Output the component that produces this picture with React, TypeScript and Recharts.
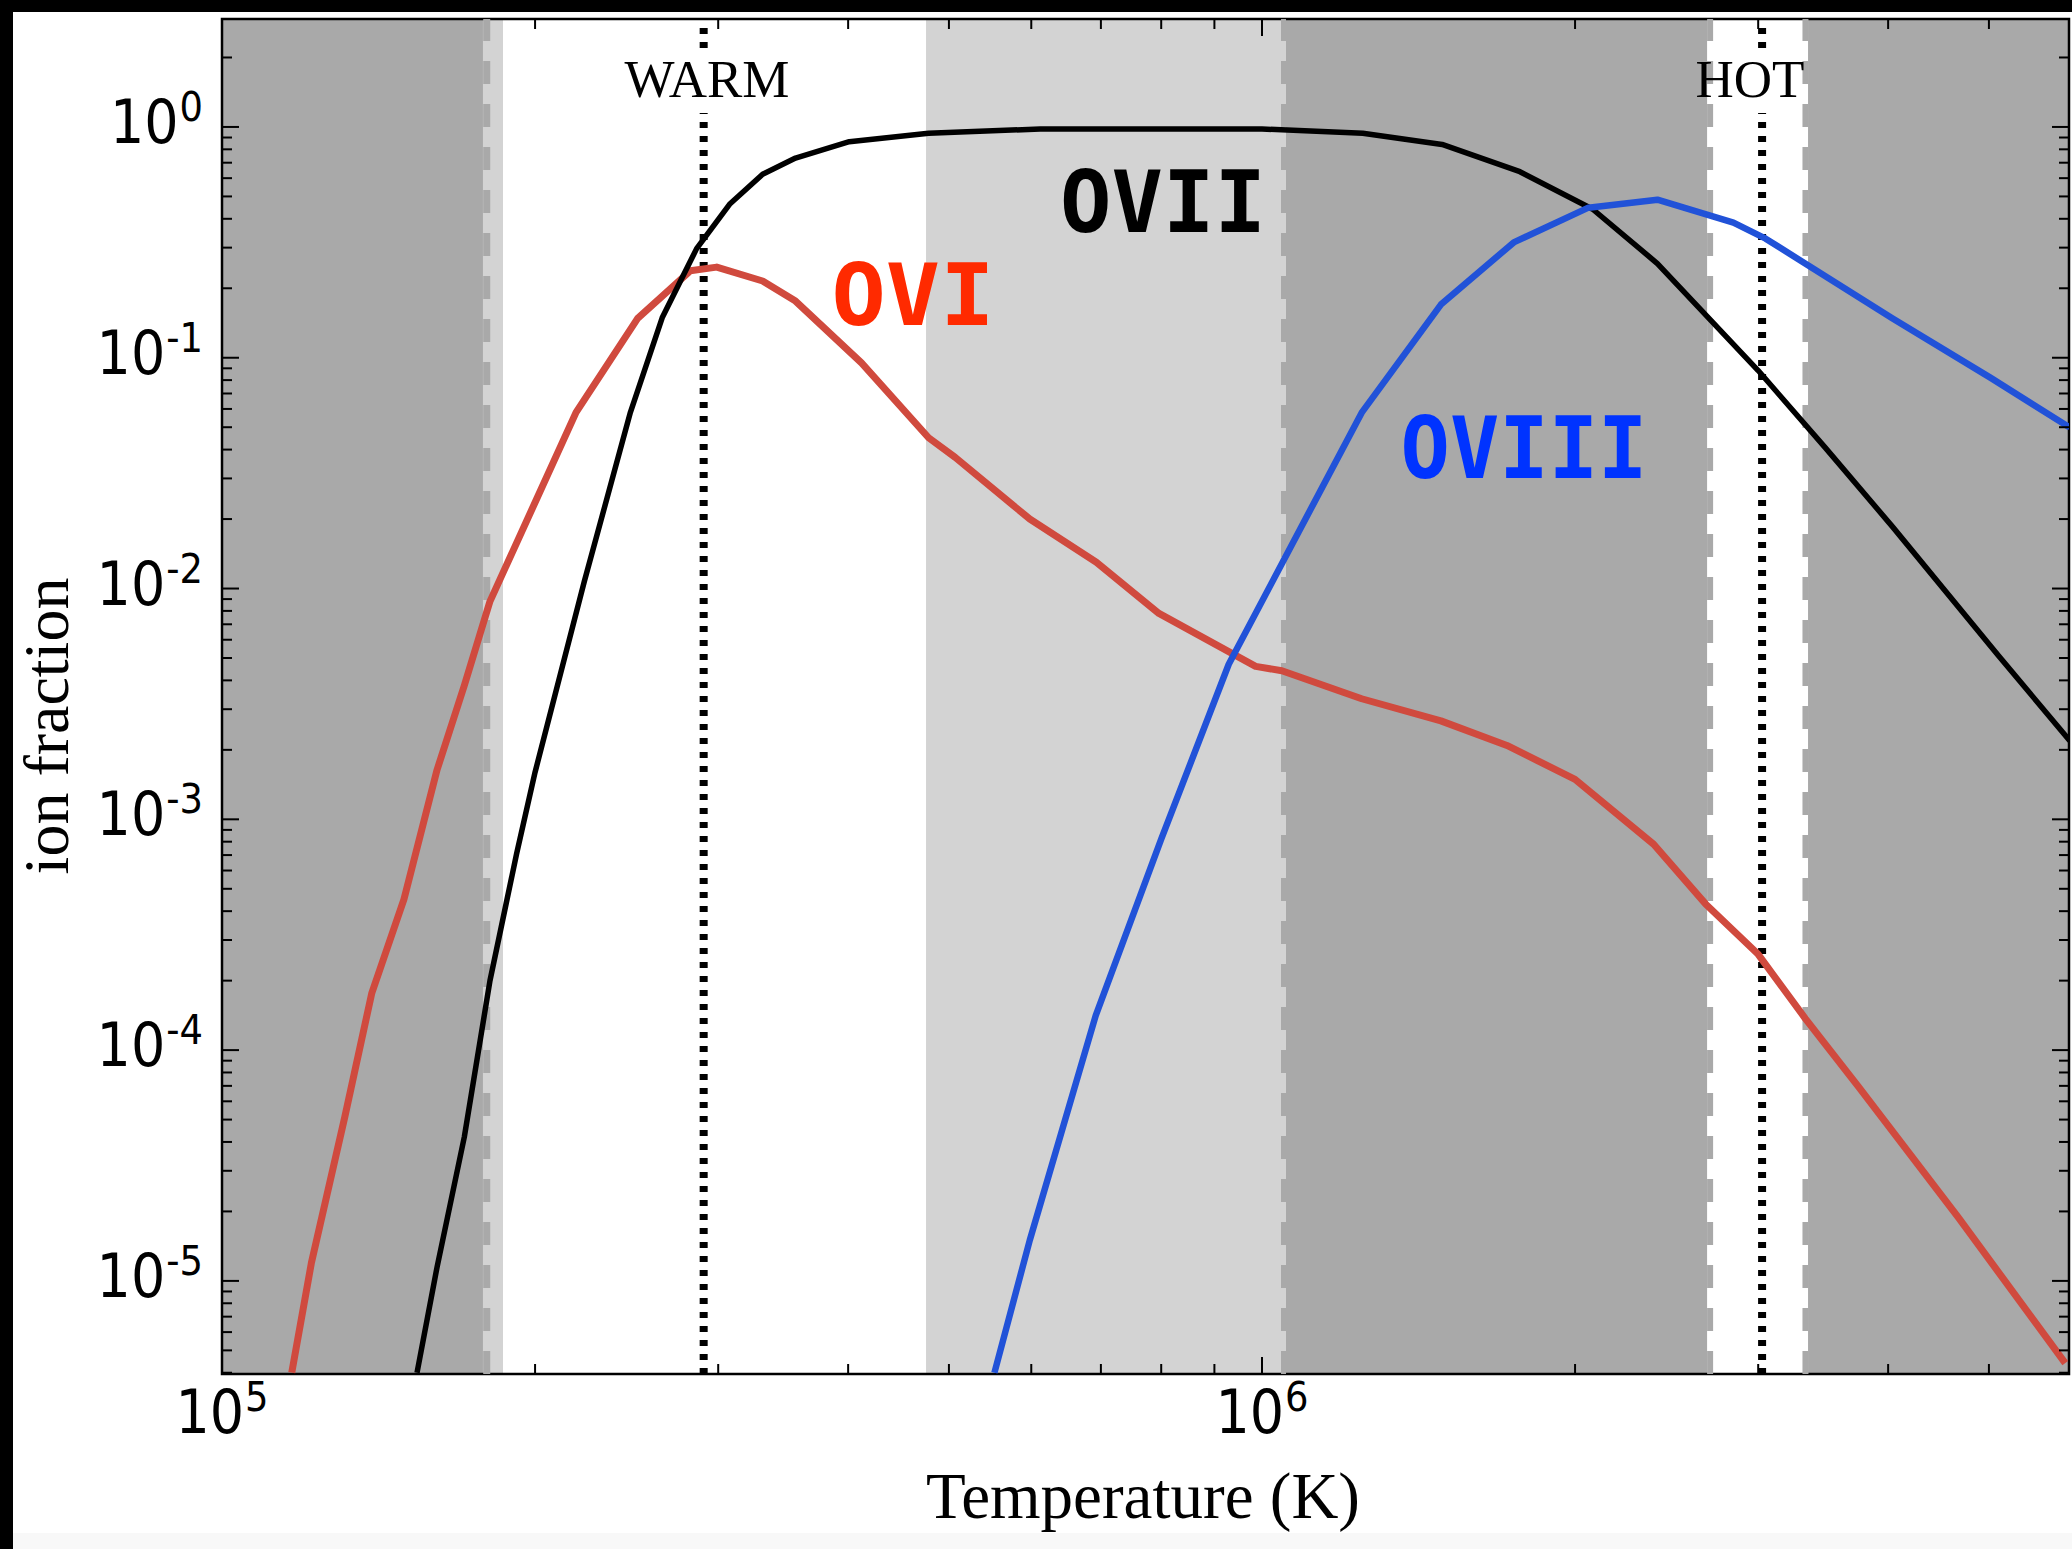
import {
  LineChart,
  Line,
  XAxis,
  YAxis,
  ReferenceArea,
  ReferenceLine,
} from 'recharts';

// temperature (K) and ion fraction
const oviT = [
  1.167e5, 1.219e5, 1.312e5, 1.393e5, 1.496e5, 1.61e5, 1.71e5, 1.81e5, 2.01e5, 2.19e5,
  2.51e5, 2.82e5, 2.99e5, 3.31e5, 3.56e5, 4.12e5, 4.78e5, 5.07e5, 5.98e5, 6.93e5,
  7.96e5, 9.86e5, 1.045e6, 1.247e6, 1.486e6, 1.72e6, 2.0e6, 2.38e6, 2.67e6,
  3.0e6, 3.33e6, 3.75e6, 4.67e6, 5.92e6,
];
const oviF = [
  4.0e-6, 1.2e-5, 5.1e-5, 1.76e-4, 4.5e-4, 1.64e-3, 3.8e-3, 8.8e-3, 0.0248, 0.058,
  0.148, 0.238, 0.247, 0.215, 0.176, 0.095, 0.045, 0.037, 0.02, 0.013,
  7.8e-3, 4.6e-3, 4.4e-3, 3.33e-3, 2.67e-3, 2.09e-3, 1.49e-3, 7.8e-4, 4.3e-4,
  2.6e-4, 1.37e-4, 6.9e-5, 1.89e-5, 4.4e-6,
];

const oviiT = [
  1.54e5, 1.61e5, 1.71e5, 1.81e5, 1.92e5, 2.0e5, 2.23e5, 2.47e5, 2.65e5, 2.86e5,
  3.08e5, 3.31e5, 3.56e5, 4.01e5, 4.78e5, 6.12e5, 1.0e6, 1.25e6, 1.49e6, 1.77e6,
  2.08e6, 2.4e6, 3.0e6, 3.48e6, 4.04e6, 5.11e6, 5.98e6,
];
const oviiF = [
  4.0e-6, 1.15e-5, 4.2e-5, 2.0e-4, 7.1e-4, 1.6e-3, 0.0107, 0.058, 0.149, 0.297,
  0.465, 0.624, 0.733, 0.863, 0.94, 0.98, 0.98, 0.94, 0.84, 0.64,
  0.44, 0.256, 0.088, 0.0408, 0.0185, 5.1e-3, 2.19e-3,
];

const oviiiT = [
  5.53e5, 5.98e5, 6.92e5, 8.0e5, 9.29e5, 1.247e6, 1.486e6, 1.746e6, 2.06e6, 2.4e6,
  2.84e6, 3.05e6, 4.04e6, 5.02e6, 5.98e6,
];
const oviiiF = [
  4.0e-6, 1.5e-5, 1.41e-4, 8.2e-4, 4.7e-3, 0.0578, 0.17, 0.316, 0.447, 0.484,
  0.385, 0.328, 0.148, 0.0818, 0.0498,
];

// shaded temperature ranges (K)
const leftLight = [1e5, 1.863e5];
const leftDark = [1e5, 1.782e5];
const leftEdge = 1.797e5;
const midLight = [4.753e5, 1.0546e6];
const midEdge = 1.0488e6;
const rightDark = [1.0546e6, 2.679e6];
const hotEdges = [2.697e6, 3.331e6];
const farDark = [3.35e6, 5.97e6];

const warmT = 2.905e5;
const hotT = 3.026e6;

const xMajor = [1e5, 1e6];
const yMajor = [1e-5, 1e-4, 1e-3, 1e-2, 1e-1, 1];

const X_DOMAIN: [number, number] = [1e5, 5.97e6];
const Y_DOMAIN: [number, number] = [3.95e-6, 2.936];

const W = 2072;
const H = 1549;
const PL = 222;
const PR = 2069;
const PT = 19;
const PB = 1374;

const zip = (t: number[], f: number[]) => t.map((T, i) => ({ T, f: f[i] }));

const withMinors = (majors: number[], [lo, hi]: [number, number]) => {
  const out: number[] = [];
  for (const m of [majors[0] / 10, ...majors]) {
    for (let k = 1; k <= 9; k++) {
      const v = m * k;
      if (v >= lo && v <= hi) out.push(v);
    }
  }
  return out;
};

const isMajor = (v: number) => {
  const e = Math.round(Math.log10(v));
  return Math.abs(v / Math.pow(10, e) - 1) < 1e-6;
};

const SANS = 'DejaVu Sans';
const SERIF = 'Liberation Serif';

// "10" with the exponent raised, squeezed a little like the original
function Pow10({ e, anchor }: { e: number; anchor: 'end' | 'middle' }) {
  return (
    <text x={0} y={0} textAnchor={anchor} fontFamily={SANS} fontSize={60} fill="#000">
      <tspan>10</tspan>
      <tspan dy={-22} dx={1} fontSize={41}>
        {String(e)}
      </tspan>
    </text>
  );
}

function YTick(props: any) {
  const { y, payload } = props;
  const v = payload.value as number;
  const major = isMajor(v);
  const len = major ? 17 : 10;
  return (
    <g>
      <line x1={PL} x2={PL + len} y1={y} y2={y} stroke="#000" strokeWidth={2} />
      <line x1={PR} x2={PR - len} y1={y} y2={y} stroke="#000" strokeWidth={2} />
      {major && (
        <g transform={`translate(203, ${y + 16}) scale(0.9, 1)`}>
          <Pow10 e={Math.round(Math.log10(v))} anchor="end" />
        </g>
      )}
    </g>
  );
}

function XTick(props: any) {
  const { x, payload } = props;
  const v = payload.value as number;
  const major = isMajor(v);
  const len = major ? 17 : 10;
  return (
    <g>
      <line x1={x} x2={x} y1={PB} y2={PB - len} stroke="#000" strokeWidth={2} />
      <line x1={x} x2={x} y1={PT} y2={PT + len} stroke="#000" strokeWidth={2} />
      {major && (
        <g transform={`translate(${x}, 1433) scale(0.9, 1)`}>
          <Pow10 e={Math.round(Math.log10(v))} anchor="middle" />
        </g>
      )}
    </g>
  );
}

export default function App() {
  const ovi = zip(oviT, oviF);
  const ovii = zip(oviiT, oviiF);
  const oviii = zip(oviiiT, oviiiF);
  const xTicks = withMinors(xMajor, X_DOMAIN);
  const yTicks = withMinors(yMajor, Y_DOMAIN);

  return (
    <div
      style={{
        position: 'absolute',
        left: 0,
        top: 0,
        width: W,
        height: H,
        background: '#fff',
        overflow: 'hidden',
      }}
    >
      <LineChart width={W} height={H} margin={{ top: PT, right: W - PR, bottom: 0, left: 0 }}>
        <XAxis
          dataKey="T"
          type="number"
          scale="log"
          domain={X_DOMAIN}
          allowDataOverflow
          ticks={xTicks}
          interval={0}
          height={H - PB}
          tickLine={false}
          axisLine={false}
          tick={<XTick />}
        />
        <YAxis
          dataKey="f"
          type="number"
          scale="log"
          domain={Y_DOMAIN}
          allowDataOverflow
          ticks={yTicks}
          interval={0}
          width={PL}
          tickLine={false}
          axisLine={false}
          tick={<YTick />}
        />

        <ReferenceArea x1={leftLight[0]} x2={leftLight[1]} fill="#d3d3d3" fillOpacity={1} stroke="none" />
        <ReferenceArea x1={leftDark[0]} x2={leftDark[1]} fill="#a9a9a9" fillOpacity={1} stroke="none" />
        <ReferenceArea x1={midLight[0]} x2={midLight[1]} fill="#d3d3d3" fillOpacity={1} stroke="none" />
        <ReferenceArea x1={rightDark[0]} x2={rightDark[1]} fill="#a9a9a9" fillOpacity={1} stroke="none" />
        <ReferenceArea x1={farDark[0]} x2={farDark[1]} fill="#a9a9a9" fillOpacity={1} stroke="none" />

        <ReferenceLine x={leftEdge} stroke="#a9a9a9" strokeWidth={7} strokeDasharray="23 20" />
        <ReferenceLine x={midEdge} stroke="#a9a9a9" strokeWidth={5} strokeDasharray="23 20" />
        {hotEdges.map((t) => (
          <ReferenceLine key={t} x={t} stroke="#a9a9a9" strokeWidth={6} strokeDasharray="23 20" />
        ))}

        {[warmT, hotT].map((t) => (
          <ReferenceLine
            key={'a' + t}
            segment={[
              { x: t, y: Y_DOMAIN[0] },
              { x: t, y: 1.15 },
            ]}
            stroke="#000"
            strokeWidth={8}
            strokeDasharray="6 8"
          />
        ))}
        {[warmT, hotT].map((t) => (
          <ReferenceLine
            key={'b' + t}
            segment={[
              { x: t, y: 2.2 },
              { x: t, y: Y_DOMAIN[1] },
            ]}
            stroke="#000"
            strokeWidth={8}
            strokeDasharray="6 8"
          />
        ))}

        <Line
          data={ovi}
          dataKey="f"
          type="linear"
          stroke="#d04a3e"
          strokeWidth={7}
          strokeLinejoin="round"
          dot={false}
          activeDot={false}
          isAnimationActive={false}
        />
        <Line
          data={ovii}
          dataKey="f"
          type="linear"
          stroke="#000"
          strokeWidth={5.5}
          strokeLinejoin="round"
          dot={false}
          activeDot={false}
          isAnimationActive={false}
        />
        <Line
          data={oviii}
          dataKey="f"
          type="linear"
          stroke="#2152d8"
          strokeWidth={6.5}
          strokeLinejoin="round"
          dot={false}
          activeDot={false}
          isAnimationActive={false}
        />

        <ReferenceArea
          x1={X_DOMAIN[0]}
          x2={X_DOMAIN[1]}
          y1={Y_DOMAIN[0]}
          y2={Y_DOMAIN[1]}
          fill="none"
          fillOpacity={0}
          stroke="#000"
          strokeWidth={2.5}
        />
      </LineChart>

      <svg
        width={W}
        height={H}
        style={{ position: 'absolute', left: 0, top: 0, pointerEvents: 'none' }}
      >
        <text
          transform="translate(68,726) rotate(-90)"
          textAnchor="middle"
          fontFamily={SERIF}
          fontSize={64}
          fill="#000"
        >
          ion fraction
        </text>
        <text x={1143} y={1518} textAnchor="middle" fontFamily={SERIF} fontSize={65} fill="#000">
          Temperature (K)
        </text>
        <text x={707} y={97} textAnchor="middle" fontFamily={SERIF} fontSize={53} fill="#000">
          WARM
        </text>
        <text x={1750} y={97} textAnchor="middle" fontFamily={SERIF} fontSize={53} fill="#000">
          HOT
        </text>
        <text
          x={913}
          y={325}
          textAnchor="middle"
          fontFamily="DejaVu Sans Mono"
          fontWeight="bold"
          fontSize={85}
          textLength={163}
          lengthAdjust="spacingAndGlyphs"
          fill="#ff2a00"
        >
          OVI
        </text>
        <text
          x={1163}
          y={232}
          textAnchor="middle"
          fontFamily="DejaVu Sans Mono"
          fontWeight="bold"
          fontSize={85}
          textLength={206}
          lengthAdjust="spacingAndGlyphs"
          fill="#000"
        >
          OVII
        </text>
        <text
          x={1524}
          y={478}
          textAnchor="middle"
          fontFamily="DejaVu Sans Mono"
          fontWeight="bold"
          fontSize={85}
          textLength={247}
          lengthAdjust="spacingAndGlyphs"
          fill="#0033ff"
        >
          OVIII
        </text>
      </svg>

      <div style={{ position: 'absolute', left: 0, top: 0, width: W, height: 12, background: '#000' }} />
      <div style={{ position: 'absolute', left: 0, top: 0, width: 13, height: H, background: '#000' }} />
      <div
        style={{ position: 'absolute', left: 13, top: 1533, width: W - 13, height: H - 1533, background: '#f8f8f8' }}
      />
    </div>
  );
}
